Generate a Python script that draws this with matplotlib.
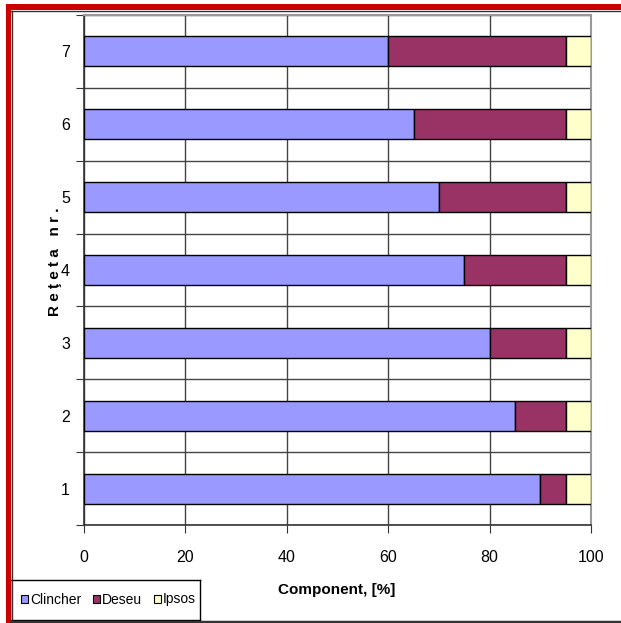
import matplotlib
matplotlib.use("Agg")
import matplotlib.pyplot as plt
from matplotlib.patches import Rectangle
from matplotlib.lines import Line2D
import numpy as np

plt.rcParams['font.family'] = ['Liberation Sans', 'DejaVu Sans']

categories = ['1', '2', '3', '4', '5', '6', '7']
clincher = [90, 85, 80, 75, 70, 65, 60]
deseu = [5, 10, 15, 20, 25, 30, 35]
ipsos = [5, 5, 5, 5, 5, 5, 5]
series_names = ['Clincher', 'Deseu', 'Ipsos']
colors = ['#9999FF', '#993366', '#FFFFCC']
xticks = [0, 20, 40, 60, 80, 100]

W, H = 621, 623
fig = plt.figure(figsize=(W/100, H/100), dpi=100)
ax = fig.add_axes([84/W, 1-525/H, (591-84)/W, (525-15)/H])

y = np.arange(1, len(categories)+1)
left = np.zeros(len(categories))
for vals, name, c in zip([clincher, deseu, ipsos], series_names, colors):
    ax.barh(y, vals, left=left, height=0.41, color=c, edgecolor='black', linewidth=1.0, label=name, zorder=3)
    left = left + np.array(vals)

ax.set_xlim(0, 100)
ax.set_ylim(0.5, len(categories)+0.5)
ax.set_xticks(xticks)
ax.set_xticklabels([str(v) for v in xticks], fontsize=11.5)
ax.set_yticks(np.arange(0.5, len(categories)+1, 1.0))
ax.set_yticklabels([])
ax.set_yticks(y, minor=True)
ax.set_yticklabels(categories, minor=True, fontsize=11.5)
ax.tick_params(axis='y', which='minor', length=0, pad=10)
ax.tick_params(axis='y', which='major', length=6, direction='out', color='#333333')
ax.tick_params(axis='x', length=6, direction='out', pad=12, color='#333333')
ax.grid(True, which='major', color='#444444', linewidth=1.0, zorder=0)
for s in ['top', 'right']:
    ax.spines[s].set_color('#999999')
    ax.spines[s].set_linewidth(1.5)
for s in ['left', 'bottom']:
    ax.spines[s].set_color('#333333')
    ax.spines[s].set_linewidth(1.2)

fig.text(337/W, 1-590/H, 'Component, [%]', fontsize=11, fontweight='bold', ha='center', va='center')
fig.text(55/W, 1-262/H, 'R e ţ e t a   n r .', fontsize=11, fontweight='bold', rotation=90, ha='center', va='center')

# legend box (drawn manually in a small axes, pixel coords)
leg_ax = fig.add_axes([10/W, 1-620/H, 190/W, 40/H])
leg_ax.set_xlim(10, 200); leg_ax.set_ylim(620, 580)
leg_ax.set_xticks([]); leg_ax.set_yticks([])
for s in leg_ax.spines.values():
    s.set_color('black'); s.set_linewidth(1.0)
leg_x = [21, 93, 154]
for lx, name, c in zip(leg_x, series_names, colors):
    leg_ax.add_patch(Rectangle((lx, 595), 7, 8, facecolor=c, edgecolor='black', linewidth=0.8))
    leg_ax.text(lx + 9, 599.5, name, fontsize=10, ha='left', va='center')

# frame decorations
fig.add_artist(Rectangle((6/W, 1-10/H), 615/W, 6/H, transform=fig.transFigure, facecolor='#CC0000', edgecolor='none'))
fig.add_artist(Rectangle((6/W, 0), 5/W, 1-4/H, transform=fig.transFigure, facecolor='#CC0000', edgecolor='none'))
fig.add_artist(Line2D([11/W, 1], [1-11/H, 1-11/H], transform=fig.transFigure, color='#333333', linewidth=1))
fig.add_artist(Line2D([11.5/W, 11.5/W], [0, 1-11/H], transform=fig.transFigure, color='#333333', linewidth=1))
fig.add_artist(Line2D([11/W, 1], [1.5/H, 1.5/H], transform=fig.transFigure, color='#333333', linewidth=2.5))

fig.savefig('out.png', dpi=100)
